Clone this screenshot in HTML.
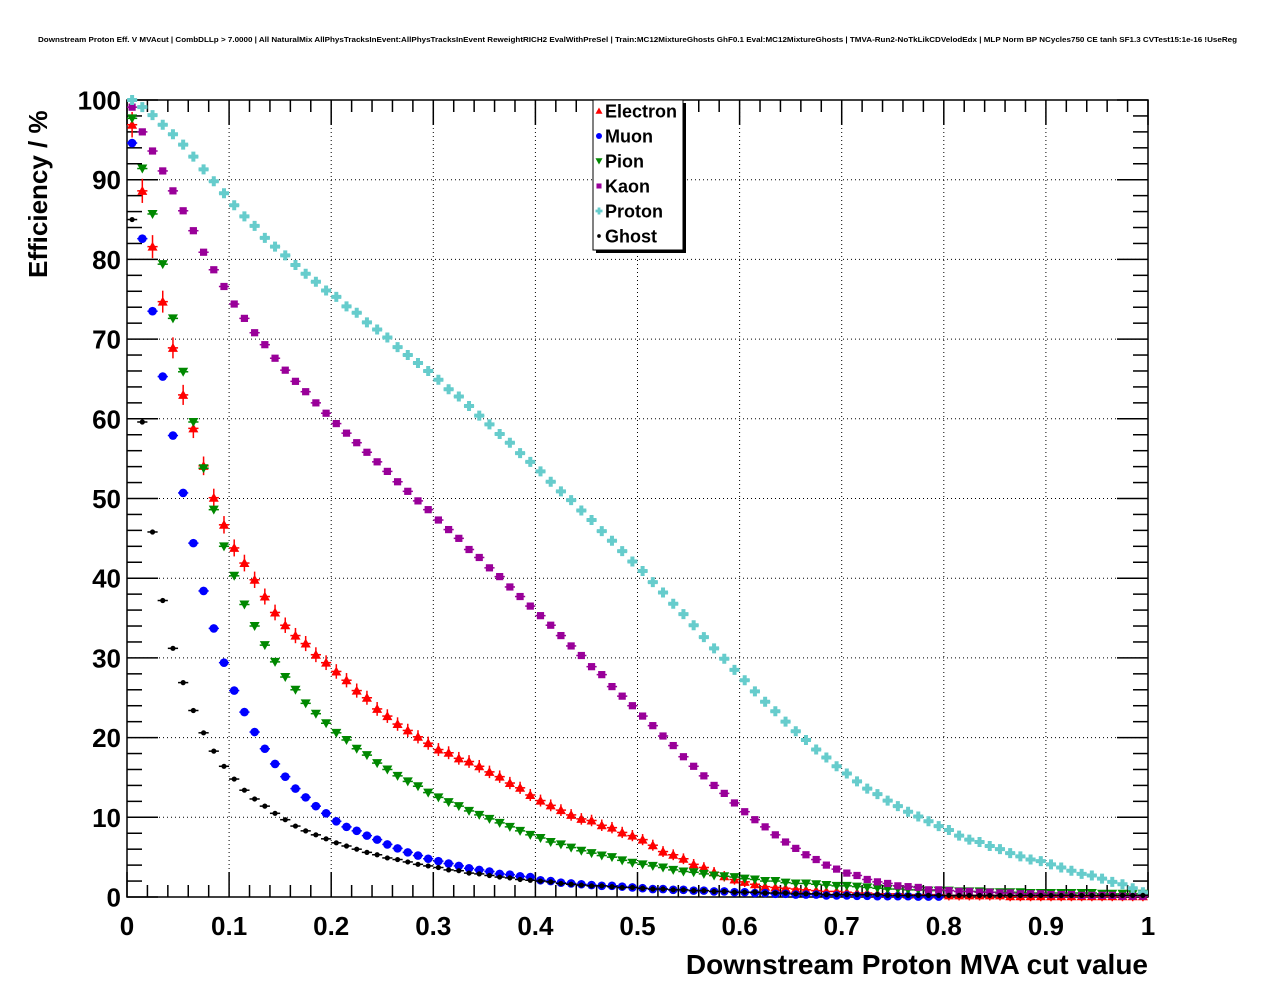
<!DOCTYPE html>
<html><head><meta charset="utf-8"><style>
html,body{margin:0;padding:0;background:#fff;}
svg{display:block;font-family:"Liberation Sans",sans-serif;}
</style></head><body>
<svg id="chart" width="1276" height="996" viewBox="0 0 1276 996" xmlns="http://www.w3.org/2000/svg">
<rect width="1276" height="996" fill="#fff"/>
<text x="38" y="42" font-size="7.5" font-weight="bold" textLength="1199" lengthAdjust="spacingAndGlyphs">Downstream Proton Eff. V MVAcut | CombDLLp &gt; 7.0000 | All NaturalMix AllPhysTracksInEvent:AllPhysTracksInEvent ReweightRICH2 EvalWithPreSel | Train:MC12MixtureGhosts GhF0.1 Eval:MC12MixtureGhosts | TMVA-Run2-NoTkLikCDVelodEdx | MLP Norm BP NCycles750 CE tanh SF1.3 CVTest15:1e-16 !UseReg</text>
<g id="grid"></g>
<g id="axes"></g>
<g id="marks"></g>
<text transform="translate(47,278) rotate(-90)" font-size="26" font-weight="bold">Efficiency / %</text>
<text x="1148" y="974" font-size="28" font-weight="bold" text-anchor="end">Downstream Proton MVA cut value</text>
<g id="legend"></g>
</svg>
<script>
const xTicks = ["0","0.1","0.2","0.3","0.4","0.5","0.6","0.7","0.8","0.9","1"];
const yTicks = ["0","10","20","30","40","50","60","70","80","90","100"];
const seriesNames = ["Electron","Muon","Pion","Kaon","Proton","Ghost"];
const electron = [96.9,88.6,81.6,74.7,68.9,63.0,58.8,54.1,50.1,46.7,43.8,41.9,39.8,37.7,35.7,34.1,32.8,31.8,30.4,29.4,28.3,27.2,25.9,25.0,23.6,22.7,21.7,20.9,20.1,19.3,18.5,18.1,17.4,17.0,16.4,15.7,15.1,14.3,13.7,12.8,12.1,11.5,10.9,10.3,9.8,9.6,9.0,8.7,8.1,7.7,7.2,6.5,5.7,5.3,4.8,4.1,3.7,3.1,2.6,2.2,1.9,1.6,1.3,1.2,1.1,1.0,0.9,0.8,0.7,0.7,0.6,0.5,0.5,0.4,0.4,0.4,0.3,0.3,0.3,0.3,0.2,0.2,0.2,0.2,0.2,0.2,0.1,0.1,0.1,0.1,0.1,0.1,0.1,0.1,0.1,0.1,0.1,0.1,0.1,0.1];
const muon = [94.6,82.6,73.5,65.3,57.9,50.7,44.4,38.4,33.7,29.4,25.9,23.2,20.7,18.6,16.7,15.1,13.6,12.5,11.4,10.5,9.5,8.8,8.3,7.7,7.2,6.6,6.1,5.6,5.2,4.8,4.5,4.2,3.9,3.6,3.4,3.2,2.9,2.8,2.6,2.5,2.1,2.0,1.8,1.7,1.6,1.5,1.4,1.4,1.3,1.2,1.1,1.0,1.0,0.9,0.9,0.8,0.8,0.7,0.7,0.6,0.6,0.5,0.5,0.4,0.4,0.3,0.3,0.3,0.2,0.2,0.2,0.15,0.15,0.1,0.1,0.1,0.1,0.05,0.05,0.05,0,0,0,0,0,0,0,0,0,0,0,0,0,0,0,0,0,0,0,0];
const pion = [97.7,91.4,85.7,79.4,72.6,65.9,59.6,53.8,48.6,44.0,40.3,36.7,34.0,31.6,29.5,27.6,26.0,24.3,23.0,21.8,20.6,19.7,18.6,17.8,16.8,16.0,15.2,14.5,13.9,13.1,12.5,11.9,11.4,10.8,10.3,9.8,9.3,8.8,8.3,7.8,7.4,6.9,6.6,6.2,5.8,5.5,5.2,5.0,4.6,4.3,4.1,3.9,3.7,3.4,3.2,3.1,2.9,2.7,2.6,2.5,2.3,2.2,2.0,2.0,1.8,1.7,1.7,1.6,1.5,1.4,1.4,1.3,1.2,1.1,1.0,1.0,0.9,0.9,0.8,0.8,0.8,0.7,0.7,0.7,0.6,0.6,0.6,0.6,0.5,0.5,0.5,0.5,0.5,0.5,0.5,0.4,0.4,0.4,0.4,0.4];
const kaon = [99.1,96.0,93.6,91.1,88.6,86.1,83.6,80.9,78.7,76.6,74.4,72.6,70.8,69.3,67.6,66.1,64.7,63.4,62.0,60.7,59.4,58.2,57.0,55.8,54.6,53.4,52.1,50.9,49.7,48.6,47.3,46.1,45.0,43.6,42.6,41.3,40.2,38.9,37.7,36.5,35.3,34.1,32.8,31.5,30.3,28.9,27.9,26.4,25.2,24.0,22.7,21.5,20.2,19.0,17.6,16.4,15.2,14.0,13.0,11.8,10.7,9.7,8.8,7.8,6.9,6.1,5.3,4.7,4.0,3.5,3.0,2.7,2.2,1.9,1.7,1.4,1.3,1.2,0.9,0.9,0.8,0.7,0.7,0.6,0.6,0.5,0.5,0.4,0.4,0.4,0.3,0.3,0.3,0.2,0.2,0.2,0.2,0.1,0.1,0.1];
const proton = [100,99.1,98.1,96.9,95.7,94.4,92.9,91.3,89.8,88.3,86.8,85.4,84.2,82.7,81.6,80.5,79.3,78.2,77.2,76.1,75.3,74.1,73.3,72.1,71.2,70.2,69.0,68.0,67.0,66.0,64.9,63.7,62.8,61.6,60.4,59.3,58.1,57.0,55.7,54.6,53.4,52.1,50.9,49.8,48.5,47.3,45.9,44.7,43.4,42.1,40.9,39.5,38.2,36.8,35.5,34.1,32.6,31.2,29.9,28.5,27.2,25.8,24.5,23.3,22.0,20.8,19.7,18.5,17.5,16.4,15.5,14.5,13.6,12.9,12.1,11.4,10.7,10.1,9.5,8.9,8.4,7.7,7.2,6.9,6.4,6.0,5.5,5.1,4.7,4.5,4.1,3.7,3.3,2.9,2.7,2.3,1.9,1.6,1.1,0.6];
const ghost = [85.0,59.6,45.8,37.2,31.2,26.9,23.4,20.6,18.3,16.4,14.8,13.4,12.3,11.4,10.5,9.7,8.9,8.3,7.8,7.3,6.8,6.4,6.0,5.6,5.3,4.9,4.7,4.4,4.1,3.9,3.7,3.4,3.3,3.0,2.9,2.7,2.5,2.4,2.2,2.1,2.0,1.9,1.7,1.6,1.5,1.4,1.4,1.3,1.2,1.2,1.1,1.0,1.0,0.9,0.9,0.8,0.8,0.7,0.7,0.6,0.6,0.6,0.5,0.5,0.5,0.4,0.4,0.4,0.3,0.3,0.3,0.3,0.3,0.3,0.2,0.2,0.2,0.2,0.2,0.2,0.2,0.2,0.2,0.2,0.2,0.2,0.2,0.2,0.2,0.2,0.2,0.2,0.2,0.2,0.2,0.2,0.2,0.2,0.2,0.2];

const NS = "http://www.w3.org/2000/svg";
const L = 127, R = 1148, T = 100, B = 897;
const xs = v => L + v * (R - L);
const ys = v => B - v / 100 * (B - T);
function mk(tag, parent, attrs) {
  const e = document.createElementNS(NS, tag);
  for (const k in attrs) e.setAttribute(k, attrs[k]);
  parent.appendChild(e);
  return e;
}
const grid = document.getElementById('grid');
const axes = document.getElementById('axes');
const marks = document.getElementById('marks');
const legend = document.getElementById('legend');

xTicks.forEach((t) => {
  const v = parseFloat(t);
  if (v > 0 && v < 1) {
    const g = mk('line', grid, {x1: xs(v), x2: xs(v), y1: T, y2: B, stroke: '#000', 'stroke-width': 1, 'stroke-dasharray': '1,3'});
    
    
  }
});
yTicks.forEach((t) => {
  const v = parseFloat(t);
  if (v > 0 && v < 100) {
    const g = mk('line', grid, {x1: L, x2: R, y1: ys(v), y2: ys(v), stroke: '#000', 'stroke-width': 1, 'stroke-dasharray': '1,3'});
    
    
  }
});

const fr = mk('rect', axes, {x: L, y: T, width: R - L, height: B - T, fill: 'none', stroke: '#000', 'stroke-width': 1.5});



for (let k = 0; k <= 50; k++) {
  const v = k / 50;
  const major = k % 5 === 0;
  const len = major ? 25 : 12;
  const a = mk('line', axes, {x1: xs(v), x2: xs(v), y1: B, y2: B - len, stroke: '#000', 'stroke-width': 1.5});
  
  
  const b = mk('line', axes, {x1: xs(v), x2: xs(v), y1: T, y2: T + len, stroke: '#000', 'stroke-width': 1.5});
  
  
}
xTicks.forEach((t) => {
  const tx = mk('text', axes, {x: xs(parseFloat(t)), y: 935, 'font-size': 26, 'font-weight': 'bold', 'text-anchor': 'middle'});
  tx.textContent = t;
  
  
});
for (let k = 0; k <= 50; k++) {
  const v = k * 2;
  const major = k % 5 === 0;
  const len = major ? 31 : 15;
  const a = mk('line', axes, {x1: L, x2: L + len, y1: ys(v), y2: ys(v), stroke: '#000', 'stroke-width': 1.5});
  
  
  const b = mk('line', axes, {x1: R, x2: R - len, y1: ys(v), y2: ys(v), stroke: '#000', 'stroke-width': 1.5});
  
  
}
yTicks.forEach((t) => {
  const tx = mk('text', axes, {x: 121, y: ys(parseFloat(t)) + 9.5, 'font-size': 26, 'font-weight': 'bold', 'text-anchor': 'end'});
  tx.textContent = t;
  
  
});

const colors = ['#ff0000', '#0000ff', '#008800', '#990099', '#66cccc', '#000000'];
const data = [electron, muon, pion, kaon, proton, ghost];
const shapes = ['tri-up', 'circle', 'tri-down', 'square', 'cross', 'dot'];

function marker(parent, shape, cx, cy, col, s) {
  let e;
  if (shape === 'tri-up') e = mk('polygon', parent, {points: `${cx},${cy - 5*s} ${cx - 5*s},${cy + 4*s} ${cx + 5*s},${cy + 4*s}`, fill: col});
  else if (shape === 'tri-down') e = mk('polygon', parent, {points: `${cx},${cy + 5*s} ${cx - 5*s},${cy - 4*s} ${cx + 5*s},${cy - 4*s}`, fill: col});
  else if (shape === 'circle') e = mk('circle', parent, {cx: cx, cy: cy, r: 4.3*s, fill: col});
  else if (shape === 'square') e = mk('rect', parent, {x: cx - 3.6*s, y: cy - 3.6*s, width: 7.2*s, height: 7.2*s, fill: col});
  else if (shape === 'cross') e = mk('path', parent, {d: `M${cx-5*s},${cy-2*s}h${3*s}v${-3*s}h${4*s}v${3*s}h${3*s}v${4*s}h${-3*s}v${3*s}h${-4*s}v${-3*s}h${-3*s}z`, fill: col});
  else e = mk('circle', parent, {cx: cx, cy: cy, r: 2.6*s, fill: col});
  return e;
}

data.forEach((arr, si) => {
  const g = mk('g', marks, {});
  
  
  const col = colors[si];
  arr.forEach((v, i) => {
    if (v <= 0) return;
    const xv = 0.005 + 0.01 * i;
    const cx = xs(xv), cy = ys(v);
    const h = mk('line', g, {x1: xs(xv - 0.005), x2: xs(xv + 0.005), y1: cy, y2: cy, stroke: col, 'stroke-width': 1.5});
    
    
    if (si === 0) {
      const ev = 5 + v * 0.08;
      const ve = mk('line', g, {x1: cx, x2: cx, y1: cy - ev, y2: cy + ev, stroke: col, 'stroke-width': 1.5});
      
      
    }
    const m = marker(g, shapes[si], cx, cy, col, 1);
    
    
  });
});

const sh = mk('rect', legend, {x: 596, y: 103, width: 90, height: 150, fill: '#000'});


const lb = mk('rect', legend, {x: 593, y: 100, width: 90, height: 150, fill: '#fff', stroke: '#000', 'stroke-width': 1});


seriesNames.forEach((n, i) => {
  const y = 111 + 25 * i;
  const m = marker(legend, shapes[i], 599, y, colors[i], 0.7);
  
  
  const t = mk('text', legend, {x: 605, y: y + 6.5, 'font-size': 18, 'font-weight': 'bold'});
  t.textContent = n;
  
  
});
</script>
</body></html>
